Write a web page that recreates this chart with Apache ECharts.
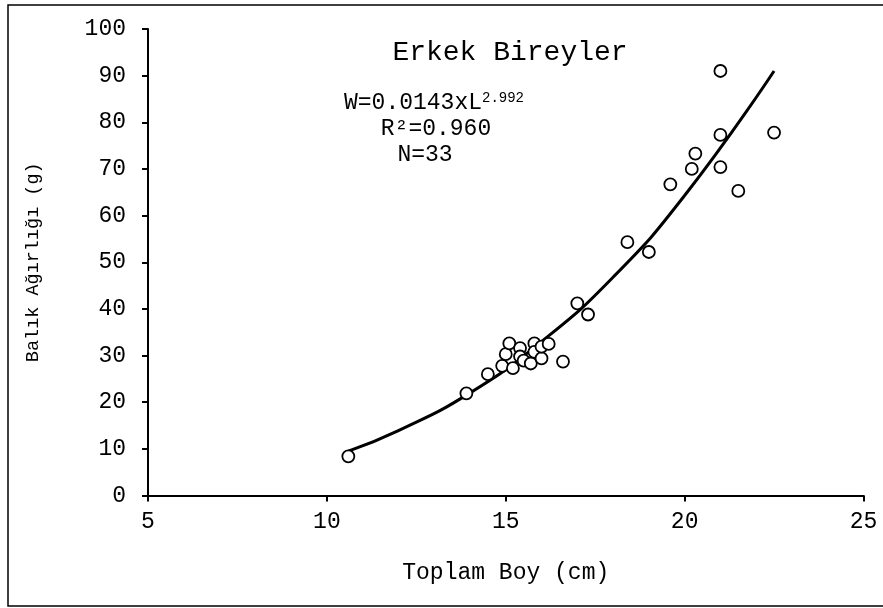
<!DOCTYPE html>
<html><head><meta charset="utf-8">
<script src="https://cdn.jsdelivr.net/npm/echarts@6/dist/echarts.min.js"></script>
<style>html,body{margin:0;padding:0;background:#fff}#c{width:883px;height:608px}</style>
</head><body><div id="c"></div>
<script>
const lengths = [10.6,13.9,14.5,14.9,15.0,15.1,15.2,15.4,15.4,15.5,15.7,15.8,15.8,16.0,16.0,16.2,16.6,17.0,17.3,18.4,19.0,19.6,20.2,20.3,21.0,21.0,21.0,21.5,22.5];
const weights = [8.4,21.9,26.0,27.8,30.3,32.6,27.3,31.6,29.8,28.9,28.3,32.6,30.8,29.4,31.9,32.5,28.7,41.2,38.8,54.3,52.2,66.7,70.0,73.3,91.0,77.3,70.4,65.3,77.8];
const curveL = [10.6,12,14,16,18,20,22.5];
const curveW = [9.5,13.9,22.0,33.0,46.8,64.3,91.0];
const xTicks = {min:5,max:25,interval:5};
const yTicks = {min:0,max:100,interval:10};
const font = '"Liberation Mono", "Courier New", monospace';

const chart = echarts.init(document.getElementById('c'));
chart.setOption({
  animation:false,
  backgroundColor:'#fff',
  grid:{left:148,right:19.5,top:29,bottom:112.5},
  xAxis:{type:'value',min:xTicks.min,max:xTicks.max,interval:xTicks.interval,
    name:'Toplam Boy (cm)',nameLocation:'middle',nameGap:66,
    nameTextStyle:{fontFamily:font,fontSize:23,color:'#000'},
    axisLine:{lineStyle:{color:'#000',width:2}},
    axisTick:{length:6,lineStyle:{color:'#000',width:2}},
    axisLabel:{fontFamily:font,fontSize:23,color:'#000',margin:15},
    splitLine:{show:false}},
  yAxis:{type:'value',min:yTicks.min,max:yTicks.max,interval:yTicks.interval,
    name:'Balık Ağırlığı (g)',nameLocation:'middle',nameGap:105,
    nameTextStyle:{fontFamily:font,fontSize:18.5,color:'#000'},
    axisLine:{lineStyle:{color:'#000',width:2}},
    axisTick:{length:6,lineStyle:{color:'#000',width:2}},
    axisLabel:{fontFamily:font,fontSize:23,color:'#000',margin:22},
    splitLine:{show:false}},
  graphic:[
    {type:'rect',shape:{x:8,y:5,width:880,height:601},style:{fill:'none',stroke:'#000',lineWidth:1.5},z:-1},
    {type:'text',style:{text:'Erkek Bireyler',font:'28px '+font,fill:'#000',x:510,y:53,align:'center',verticalAlign:'middle'}},
    {type:'text',style:{x:434,y:103,align:'center',verticalAlign:'middle',
      text:'{a|W=0.0143xL}{s|2.992}',rich:{a:{fontFamily:font,fontSize:23,color:'#000'},s:{fontFamily:font,fontSize:14,color:'#000',verticalAlign:'top',padding:[0,0,10,0]}}}},
    {type:'text',style:{x:436,y:129,align:'center',verticalAlign:'middle',text:'R²=0.960',font:'23px '+font,fill:'#000'}},
    {type:'text',style:{x:425,y:155,align:'center',verticalAlign:'middle',text:'N=33',font:'23px '+font,fill:'#000'}}
  ],
  series:[
    {type:'line',data:curveL.map((l,i)=>[l,curveW[i]]),smooth:true,showSymbol:false,
      lineStyle:{color:'#000',width:3},z:2},
    {type:'scatter',data:lengths.map((l,i)=>[l,weights[i]]),symbol:'circle',symbolSize:12,
      itemStyle:{color:'#fff',borderColor:'#000',borderWidth:1.8,opacity:1},z:3}
  ]
});
</script></body></html>
